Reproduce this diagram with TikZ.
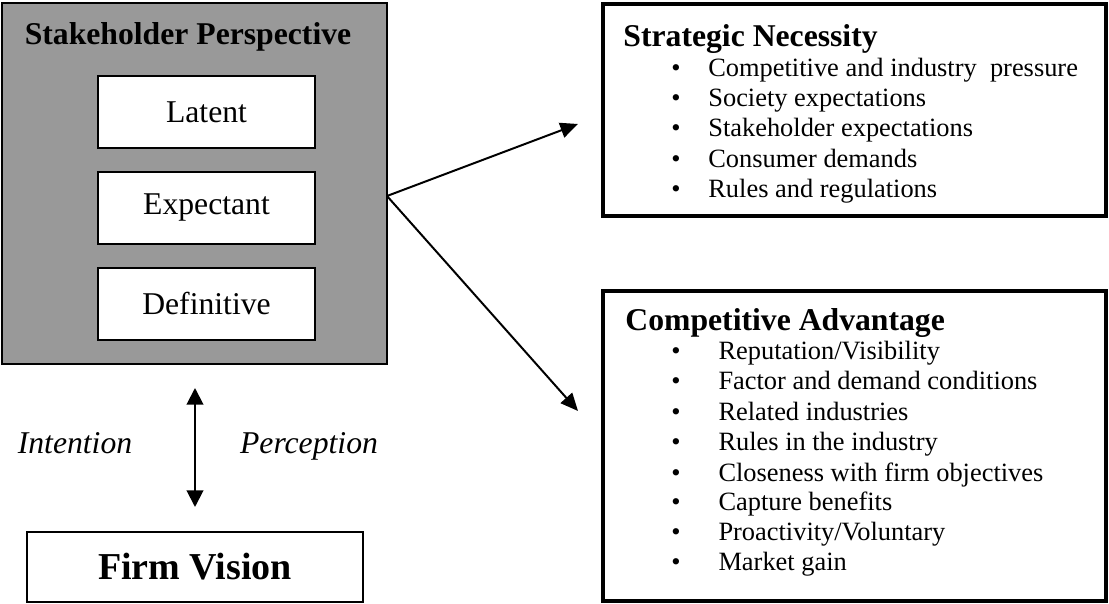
\documentclass[tikz,border=0pt]{standalone}
\usepackage{fontspec}
\setmainfont{Liberation Serif}
\usetikzlibrary{arrows.meta}
\definecolor{persgray}{RGB}{153,153,153}
\def\bltS{\makebox[16.8pt][l]{\textbullet}}
\def\bltC{\makebox[21.4pt][l]{\textbullet}}
\def\bigtxt{\fontsize{14.4}{17}\selectfont}
\def\norm{\fontsize{12}{13.8}\selectfont}

\begin{document}
\begin{tikzpicture}[x=0.4545pt,y=-0.4545pt,
    conn/.style={line width=0.9pt,-{Triangle[length=8pt,width=7pt]}},
    level/.style={draw,line width=1pt,fill=white,minimum width=98.6pt,minimum height=32.7pt,font=\bigtxt},
    goal/.style={draw,line width=1.5pt,inner sep=0pt},
    item/.style={anchor=base west,inner sep=0pt,font=\norm}]
   \useasboundingbox (0,0) rectangle (1109,604);
          % stakeholder side
          \node [draw,line width=0.7pt,fill=persgray,minimum width=175pt,minimum height=164.1pt] (persp) at (194.5,183.5) {};
          \node [anchor=base,inner sep=0pt,font=\bigtxt\bfseries] (ptitle) at (188,45) {Stakeholder Perspective};
          \node [level] (latent) at (206.5,112) {Latent};
          \node [level] (expect) at (206.5,208) {Expectant};
          \node [level] (defin) at (206.5,304) {Definitive};
          \node [draw,line width=0.8pt,minimum width=152.7pt,minimum height=31.8pt,font=\fontsize{17.28}{20}\selectfont\bfseries] (vision) at (195,567) {Firm Vision};
          \node [anchor=base,inner sep=0pt,font=\bigtxt\itshape] (intent) at (75,454) {Intention};
          \node [anchor=base,inner sep=0pt,font=\bigtxt\itshape] (percep) at (309,454) {Perception};
          \coordinate (up) at (195,388);
          \coordinate (down) at (195,507);
          \draw [line width=0.9pt,{Triangle[length=7.5pt,width=7.5pt]}-{Triangle[length=7.5pt,width=7.5pt]}] (up) -- (down);
          % the two goal boxes
          \node [goal,minimum width=228.6pt,minimum height=96.4pt] (strat) at (854.5,110) {};
          \node [item,font=\bigtxt\bfseries] (stitle) at (623,47) {Strategic Necessity};
          \node [item] (s1) at (671,77) {\bltS Competitive and industry\ \ pressure};
          \node [item] (s2) at (671,107) {\bltS Society expectations};
          \node [item] (s3) at (671,137) {\bltS Stakeholder expectations};
          \node [item] (s4) at (671,168) {\bltS Consumer demands};
          \node [item] (s5) at (671,198) {\bltS Rules and regulations};
          \node [goal,minimum width=228.6pt,minimum height=140.9pt] (compet) at (854.5,446) {};
          \node [item,font=\bigtxt\bfseries] (ctitle) at (625,331) {Competitive Advantage};
          \node [item] (c1) at (671,360) {\bltC Reputation/Visibility};
          \node [item] (c2) at (671,390) {\bltC Factor and demand conditions};
          \node [item] (c3) at (671,420) {\bltC Related industries};
          \node [item] (c4) at (671,450) {\bltC Rules in the industry};
          \node [item] (c5) at (671,481) {\bltC Closeness with firm objectives};
          \node [item] (c6) at (671,511) {\bltC Capture benefits};
          \node [item] (c7) at (671,541) {\bltC Proactivity/Voluntary};
          \node [item] (c8) at (671,571) {\bltC Market gain};
          % arrows out of the grey box
          \coordinate (fork) at (387,196);
          \coordinate (tipS) at (578,124);
          \coordinate (tipC) at (578,411);
          \draw [conn] (fork) -- (tipS);
          \draw [conn] (fork) -- (tipC);
\end{tikzpicture}
\end{document}
